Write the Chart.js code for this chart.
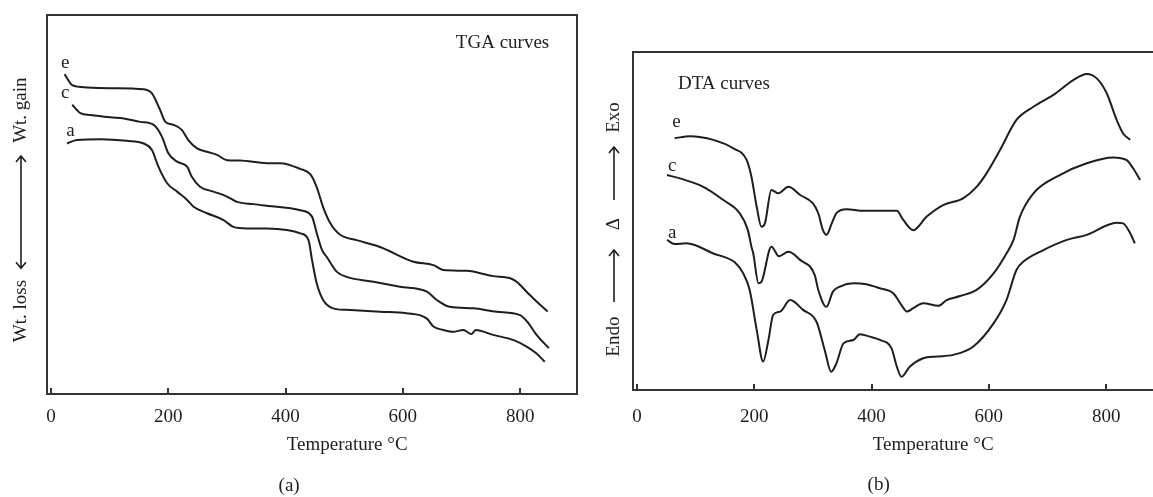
<!DOCTYPE html>
<html>
<head>
<meta charset="utf-8">
<script src="https://cdn.jsdelivr.net/npm/chart.js@4/dist/chart.umd.min.js"></script>
<style>
  html, body { margin: 0; padding: 0; background: #fff; overflow: hidden; }
  body { width: 1153px; height: 497px; position: relative; }
  .panel { position: absolute; top: 0; width: 600px; height: 497px; }
  #panelA { left: 0; }
  #panelB { left: 586px; }
</style>
</head>
<body>
<div class="panel" id="panelA"><canvas id="tga"></canvas></div>
<div class="panel" id="panelB"><canvas id="dta"></canvas></div>
<script>
const xTicks = [0, 200, 400, 600, 800];

// TGA (a) - relative weight
const tgaTempE = [23, 36, 61, 101, 158, 172, 186, 195, 209, 223, 234, 249, 266, 283, 300, 322, 368, 391, 425, 442, 453, 464, 476, 493, 521, 561, 618, 652, 669, 709, 754, 782, 794, 811, 828, 847];
const tgaValsE = [84.4, 81.5, 80.9, 80.7, 80.4, 79.3, 74.9, 71.8, 71.0, 69.7, 67.0, 64.8, 63.9, 63.1, 61.7, 61.6, 60.9, 60.9, 59.4, 58.0, 54.6, 49.3, 45.1, 42.0, 40.6, 38.8, 34.9, 34.0, 32.7, 32.5, 31.1, 30.6, 29.6, 27.0, 24.4, 21.8];
const tgaTempC = [36, 50, 67, 101, 124, 152, 175, 189, 200, 215, 232, 240, 254, 277, 300, 317, 345, 385, 425, 445, 453, 462, 470, 487, 504, 550, 595, 641, 658, 680, 720, 760, 800, 814, 828, 849];
const tgaValsC = [76.3, 74.1, 73.6, 73.0, 72.7, 71.8, 71.0, 67.9, 63.5, 61.3, 60.0, 57.3, 54.7, 53.4, 52.1, 50.7, 50.1, 49.4, 48.5, 46.8, 42.5, 38.0, 36.2, 32.3, 30.9, 29.6, 28.3, 27.0, 24.8, 23.0, 22.6, 21.7, 20.8, 18.7, 15.6, 12.1];
const tgaTempA = [27, 44, 84, 129, 158, 172, 183, 198, 215, 232, 243, 266, 294, 311, 334, 368, 402, 425, 439, 445, 453, 464, 481, 504, 561, 606, 641, 652, 669, 686, 703, 717, 724, 754, 789, 811, 828, 842];
const tgaValsA = [66.1, 67.0, 67.2, 66.8, 66.1, 64.4, 60.0, 55.6, 53.4, 51.2, 49.4, 47.7, 45.9, 44.1, 43.7, 43.7, 43.3, 42.4, 40.6, 35.4, 29.2, 24.8, 22.6, 22.2, 21.7, 21.3, 19.9, 17.8, 16.9, 16.4, 16.9, 15.8, 16.9, 15.6, 14.2, 12.5, 10.7, 8.5];

// DTA (b) - relative signal
const dtaTempE = [64, 90, 130, 164, 187, 195, 204, 212, 218, 229, 241, 258, 278, 300, 309, 317, 323, 332, 340, 357, 386, 443, 454, 471, 494, 522, 556, 579, 596, 619, 647, 676, 710, 744, 767, 784, 801, 818, 829, 841];
const dtaValsE = [74.5, 75.1, 74.0, 71.5, 68.0, 63.1, 54.2, 48.3, 49.3, 59.2, 58.2, 60.1, 57.7, 55.2, 52.3, 47.3, 45.9, 49.3, 52.3, 53.5, 53.0, 53.0, 50.3, 47.3, 51.3, 54.7, 56.7, 60.1, 64.1, 71.0, 79.9, 83.8, 87.3, 91.7, 93.5, 92.2, 87.8, 79.9, 75.9, 74.0];
const dtaTempC = [51, 73, 113, 147, 175, 189, 195, 198, 207, 212, 229, 242, 258, 278, 303, 309, 323, 334, 346, 369, 391, 414, 437, 451, 460, 471, 488, 514, 528, 551, 579, 608, 630, 642, 653, 676, 721, 767, 812, 835, 846, 858];
const dtaValsC = [63.6, 62.6, 60.1, 56.2, 52.3, 47.3, 42.4, 40.5, 31.6, 32.0, 42.4, 39.6, 40.9, 38.5, 34.0, 29.6, 24.6, 29.1, 30.6, 31.6, 31.3, 30.1, 28.6, 25.1, 23.2, 24.2, 25.7, 24.9, 26.6, 27.8, 29.6, 34.5, 40.4, 44.4, 51.3, 58.2, 63.6, 67.1, 68.8, 68.0, 65.6, 62.1];
const dtaTempA = [51, 64, 84, 130, 167, 181, 192, 204, 215, 224, 232, 244, 261, 283, 306, 320, 331, 340, 352, 369, 380, 397, 414, 434, 443, 451, 465, 488, 511, 539, 573, 608, 630, 647, 659, 693, 733, 767, 818, 829, 841, 849];
const dtaValsA = [44.4, 43.2, 43.4, 40.4, 37.7, 34.5, 29.6, 17.8, 8.4, 14.8, 22.2, 23.2, 26.6, 23.7, 20.2, 11.8, 5.4, 7.9, 13.8, 14.8, 16.5, 15.8, 14.8, 12.3, 6.9, 3.9, 6.9, 9.4, 9.9, 10.4, 12.8, 19.7, 26.6, 35.5, 38.0, 41.4, 44.4, 45.9, 49.5, 49.3, 46.4, 43.4];

const FONT = '"Liberation Serif", "Times New Roman", serif';
const INK = '#1e1e1e';

function pts(temps, vals) {
  return temps.map((t, i) => ({ x: t, y: vals[i] }));
}

function curve(temps, vals) {
  return {
    data: pts(temps, vals),
    borderColor: INK,
    borderWidth: 2,
    pointRadius: 0,
    cubicInterpolationMode: 'monotone',
    fill: false
  };
}

// frame, inner ticks, and the texts of each panel
const decor = {
  id: 'decor',
  afterDraw(chart, args, o) {
    const { ctx, chartArea: a, scales } = chart;
    const sx = scales.x, sy = scales.y;
    ctx.save();
    ctx.strokeStyle = '#333';
    ctx.lineWidth = 2;
    ctx.strokeRect(a.left, a.top, a.right - a.left, a.bottom - a.top);
    ctx.beginPath();
    xTicks.forEach(t => {
      const x = Math.round(sx.getPixelForValue(t));
      ctx.moveTo(x, a.bottom);
      ctx.lineTo(x, a.bottom - 6);
    });
    ctx.stroke();

    ctx.fillStyle = INK;
    ctx.textAlign = 'center';
    ctx.textBaseline = 'middle';
    ctx.font = '19px ' + FONT;
    o.notes.forEach(n => {
      ctx.fillText(n.text, sx.getPixelForValue(n.t), sy.getPixelForValue(n.v));
    });
    ctx.fillText('Temperature \u00B0C', sx.getPixelForValue(505), a.bottom + o.titleGap);
    ctx.fillText(o.tag, sx.getPixelForValue(o.tagAt), a.bottom + o.tagGap);

    // rotated side label
    const lx = a.left + o.sideX;
    ctx.save();
    ctx.translate(lx, 0);
    ctx.rotate(-Math.PI / 2);
    o.side.forEach(s => {
      ctx.fillText(s.text, -sy.getPixelForValue(s.v), 0);
    });
    ctx.restore();
    ctx.lineWidth = 1.6;
    ctx.strokeStyle = INK;
    o.arrows.forEach(ar => {
      const y0 = sy.getPixelForValue(ar.from), y1 = sy.getPixelForValue(ar.to);
      ctx.beginPath();
      ctx.moveTo(lx, y0);
      ctx.lineTo(lx, y1);
      const heads = ar.both ? [[y1, y0], [y0, y1]] : [[y1, y0]];
      heads.forEach(([tip, tail]) => {
        const d = tip < tail ? 1 : -1;
        ctx.moveTo(lx - 5, tip + 6 * d);
        ctx.lineTo(lx, tip);
        ctx.lineTo(lx + 5, tip + 6 * d);
      });
      ctx.stroke();
    });
    ctx.restore();
  }
};

function makeChart(id, datasets, pad, axisHeight, tickPad, decorOpts) {
  return new Chart(document.getElementById(id), {
    type: 'line',
    data: { datasets },
    plugins: [decor],
    options: {
      responsive: true,
      maintainAspectRatio: false,
      animation: false,
      layout: { padding: pad },
      plugins: { legend: { display: false }, tooltip: { enabled: false }, decor: decorOpts },
      scales: {
        x: {
          type: 'linear',
          min: -7,
          max: 897,
          afterBuildTicks(scale) { scale.ticks = xTicks.map(v => ({ value: v })); },
          afterFit(scale) { scale.height = axisHeight; },
          grid: { display: false, drawTicks: false },
          border: { display: true, color: '#333', width: 2 },
          ticks: { font: { family: FONT, size: 19 }, color: INK, padding: tickPad, maxRotation: 0 }
        },
        y: { display: false, min: 0, max: 100 }
      }
    }
  });
}

makeChart('tga', [curve(tgaTempE, tgaValsE), curve(tgaTempC, tgaValsC), curve(tgaTempA, tgaValsA)],
  { left: 47, right: 23, top: 15, bottom: 0 }, 103, 12, {
    notes: [
      { text: 'TGA curves', t: 770, v: 92.6 },
      { text: 'e', t: 24, v: 87.3 },
      { text: 'c', t: 24, v: 79.4 },
      { text: 'a', t: 33, v: 69.4 }
    ],
    titleGap: 51, tag: '(a)', tagAt: 406, tagGap: 92,
    sideX: -26,
    side: [{ text: 'Wt. gain', v: 74.9 }, { text: 'Wt. loss', v: 21.9 }],
    arrows: [{ from: 33.2, to: 62.8, both: true }]
  });

makeChart('dta', [curve(dtaTempE, dtaValsE), curve(dtaTempC, dtaValsC), curve(dtaTempA, dtaValsA)],
  { left: 47, right: 23, top: 52, bottom: 0 }, 107, 16, {
    notes: [
      { text: 'DTA curves', t: 148, v: 90.5 },
      { text: 'e', t: 67, v: 79.3 },
      { text: 'c', t: 60, v: 66.3 },
      { text: 'a', t: 60, v: 46.4 }
    ],
    titleGap: 55, tag: '(b)', tagAt: 412, tagGap: 95,
    sideX: -19,
    side: [{ text: 'Exo', v: 80.6 }, { text: '\u0394', v: 49.1 }, { text: 'Endo', v: 15.8 }],
    arrows: [{ from: 26.0, to: 41.4 }, { from: 56.2, to: 71.9 }]
  });
</script>
</body>
</html>
